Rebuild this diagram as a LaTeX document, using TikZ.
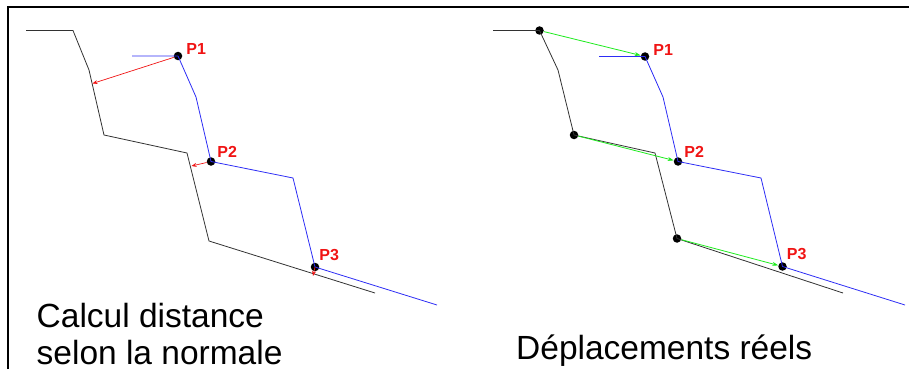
\documentclass[tikz,border=0pt]{standalone}
\usepackage{fontspec}
\setmainfont{Liberation Sans}
\usepackage{tikz}
\usetikzlibrary{positioning,arrows.meta}
\definecolor{profil}{RGB}{50,50,50}
\definecolor{mesure}{RGB}{45,45,245}
\definecolor{normale}{RGB}{240,20,20}
\definecolor{reel}{RGB}{30,235,30}

\begin{document}
\begin{tikzpicture}[x=1pt, y=-1pt,
  profile/.style={draw=profil, line width=0.8pt},
  measured/.style={draw=mesure, line width=0.8pt},
  pt/.style={circle, fill=black, inner sep=0pt, minimum size=8.5pt},
  plabel/.style={text=normale, font=\bfseries\fontsize{16}{16}\selectfont, inner sep=0pt},
  caption/.style={font=\fontsize{33.5}{37}\selectfont, align=left, inner sep=0pt, anchor=base west},
  normal/.style={-{Stealth[length=5pt,width=4pt]}, draw=normale, line width=0.7pt},
  disp/.style={-{Stealth[length=6pt,width=4pt]}, draw=reel, line width=0.8pt}
]
  \useasboundingbox (0,0) rectangle (909,369);
  % frame
  \coordinate (fa) at (8,369);
  \coordinate (fb) at (8,7.3);
  \coordinate (fc) at (909,7.3);
  \draw[line width=2pt] (fa) -- (fb) -- (fc);

  % left: distance along the normal
  \coordinate (g0) at (26,30.5);
  \coordinate (g1) at (73,30.5);
  \coordinate (g2) at (89,70);
  \coordinate (g3) at (104,135);
  \coordinate (g4) at (187,153);
  \coordinate (g5) at (209,241);
  \coordinate (g6) at (375,293);
  \draw[profile] (g0) -- (g1) -- (g2) -- (g3) -- (g4) -- (g5) -- (g6);

  \node[pt] (gp1) at (178,56) {};
  \node[pt] (gp2) at (211,161.5) {};
  \node[pt] (gp3) at (315,267) {};
  \coordinate (gm0) at (132,56);
  \coordinate (gm1) at (196,97);
  \coordinate (gm2) at (293,178);
  \coordinate (gm3) at (437,305);
  \draw[measured] (gm0) -- (gp1.center) -- (gm1) -- (gp2.center) -- (gm2) -- (gp3.center) -- (gm3);

  \coordinate (gn1) at (92.5,83.5);
  \coordinate (gn2) at (191.5,166);
  \coordinate (gn3) at (313,276);
  \draw[normal] (gp1) -- (gn1);
  \draw[normal] (gp2) -- (gn2);
  \draw[normal] (gp3.center) -- (gn3);

  \node[plabel, above right=-2pt and 5pt of gp1] (gl1) {P1};
  \node[plabel, above right=1pt and 3pt of gp2] (gl2) {P2};
  \node[plabel, above right=3pt and 1pt of gp3] (gl3) {P3};

  \node[caption] (gcap) at (36.5,364) {Calcul distance\\selon la normale};

  % right: real displacements
  \coordinate (d0) at (493,30.5);
  \node[pt] (d1) at (539.5,30.5) {};
  \coordinate (d2) at (558,70);
  \node[pt] (d3) at (574,135) {};
  \coordinate (d4) at (655,153);
  \node[pt] (d5) at (677,238.5) {};
  \coordinate (d6) at (843,293);
  \draw[profile] (d0) -- (d1.center) -- (d2) -- (d3.center) -- (d4) -- (d5.center) -- (d6);

  \node[pt] (dp1) at (645,56.5) {};
  \node[pt] (dp2) at (678,161.5) {};
  \node[pt] (dp3) at (782.5,266.5) {};
  \coordinate (dm0) at (599,56.5);
  \coordinate (dm1) at (663,97);
  \coordinate (dm2) at (761,178);
  \coordinate (dm3) at (905,305);
  \draw[measured] (dm0) -- (dp1.center) -- (dm1) -- (dp2.center) -- (dm2) -- (dp3.center) -- (dm3);

  \draw[disp] (d1) -- (dp1);
  \draw[disp] (d3) -- (dp2);
  \draw[disp] (d5) -- (dp3);

  \node[plabel, above right=-2pt and 5pt of dp1] (dl1) {P1};
  \node[plabel, above right=1pt and 3pt of dp2] (dl2) {P2};
  \node[plabel, above right=3pt and 1pt of dp3] (dl3) {P3};

  \node[caption] (dcap) at (516,359) {Déplacements réels};
\end{tikzpicture}
\end{document}
